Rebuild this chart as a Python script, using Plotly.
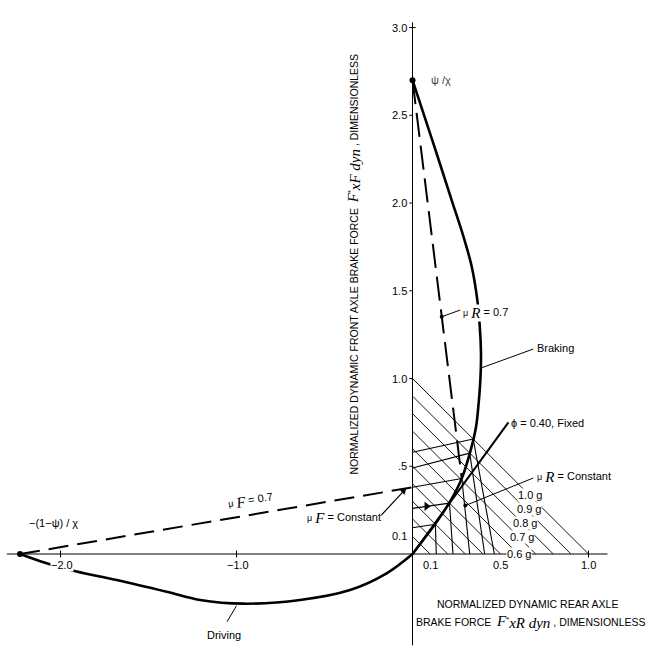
import plotly.graph_objects as go

# ---------------- data ----------------
# ideal braking curve (upper branch, from psi/chi point down to origin)
brake_x = [0.0, 0.115, 0.228, 0.289, 0.336, 0.368, 0.382, 0.389, 0.388, 0.383, 0.374, 0.361, 0.331, 0.280, 0.213, 0.138, 0.061, 0.0]
brake_y = [2.70, 2.35, 2.00, 1.81, 1.64, 1.45, 1.30, 1.15, 1.05, 0.95, 0.84, 0.725, 0.593, 0.431, 0.298, 0.184, 0.080, 0.0]
# driving branch (origin to -(1-psi)/chi)
drive_x = [0.0, -0.147, -0.355, -0.639, -0.96, -1.207, -1.397, -1.681, -1.946, -2.088, -2.23]
drive_y = [0.0, -0.110, -0.205, -0.262, -0.283, -0.262, -0.215, -0.148, -0.091, -0.05, 0.0]

psi_chi = 2.70          # front-axle intercept
neg_pole = -2.23        # -(1-psi)/chi
muF07_y0 = 0.38         # mu_F = 0.7 line at y-axis
muR07_x0 = 0.325        # mu_R = 0.7 line at x-axis
ideal07 = [0.28, 0.43]  # ideal point at 0.7 g

# mu_F = constant lines (y-axis start) and mu_R = constant lines (x-axis start)
muF_y0 = [0.15, 0.26, 0.38, 0.49, 0.58]
muR_x0 = [0.135, 0.23, 0.325, 0.41, 0.465]
ideal_x = [0.13, 0.21, 0.28, 0.325, 0.345]
ideal_y = [0.17, 0.29, 0.43, 0.575, 0.655]

# constant deceleration lines (g)
decel = [0.1, 0.2, 0.3, 0.4, 0.5, 0.6, 0.7, 0.8, 0.9, 1.0]
decel_labels = ["1.0 g", "0.9 g", "0.8 g", "0.7 g", "0.6 g"]
decel_lab_x = [0.665, 0.66, 0.64, 0.62, 0.605]
decel_lab_y = [0.335, 0.255, 0.175, 0.098, 0.0]

# fixed brake force distribution line phi = 0.40
phi_x = [0.0, 0.545]
phi_y = [0.0, 0.75]

# axes
yticks = [3.0, 2.5, 2.0, 1.5, 1.0, 0.5, 0.1]
ytick_text = ["3.0", "2.5", "2.0", "1.5", "1.0", ".5", "0.1"]
xticks = [-2.0, -1.0, 0.1, 0.5, 1.0]
xtick_text = ["\u22122.0", "\u22121.0", "0.1", "0.5", "1.0"]
x_axis_span = [-2.305, 1.108]
y_axis_span = [-0.52, 3.03]

FONT = "Liberation Sans, Arial, sans-serif"
SERIF = "Liberation Serif, DejaVu Serif, serif"

fig = go.Figure()

def line(xs, ys, width=1.0, dash="solid", shape="linear"):
    fig.add_trace(go.Scatter(x=xs, y=ys, mode="lines",
                             line=dict(color="black", width=width, dash=dash, shape=shape),
                             hoverinfo="skip", showlegend=False))

# axes
line(x_axis_span, [0, 0], 1.0)
line([0, 0], y_axis_span, 1.0)
tx, ty = [], []
for v in yticks[:-1]:
    tx += [-0.018, 0.0 if v != 3.0 else 0.018, None]
    ty += [v, v, None]
for v in [-2.0, -1.0, 1.0]:
    tx += [v, v, None]
    ty += [-0.02, 0.02, None]
line(tx, ty, 1.0)

# constant deceleration lines
hx, hy = [], []
for a in decel:
    hx += [0, a, None]
    hy += [a, 0, None]
line(hx, hy, 0.9)

# mu_F and mu_R constant lines
gx, gy = [], []
for y0, ex, ey in zip(muF_y0, ideal_x, ideal_y):
    gx += [0, ex, None]
    gy += [y0, ey, None]
for x0, ex, ey in zip(muR_x0, ideal_x, ideal_y):
    gx += [x0, ex, None]
    gy += [0, ey, None]
line(gx, gy, 1.1)

# dashed mu = 0.7 lines
line([neg_pole, 0], [0, muF07_y0], 2.0, dash="20px,9px")
line([0, ideal07[0]], [psi_chi, ideal07[1]], 2.0, dash="24px,9px")

# phi line
line(phi_x, phi_y, 2.0)

# ideal curves
line(brake_x, brake_y, 2.6, shape="spline")
line(drive_x, drive_y, 2.6, shape="spline")

# leaders
line([0.166, 0.27], [1.352, 1.39], 1.0)          # mu_R = 0.7
line([0.39, 0.686], [1.06, 1.168], 1.0)          # Braking
line([0.30, 0.686], [0.276, 0.433], 1.0)         # mu_R = Constant
line([-1.0, -1.054], [-0.295, -0.386], 1.0)      # Driving

# points
fig.add_trace(go.Scatter(x=[0, neg_pole], y=[psi_chi, 0], mode="markers",
                         marker=dict(color="black", size=6), hoverinfo="skip", showlegend=False))
fig.add_trace(go.Scatter(x=[0.166, 0.30], y=[1.352, 0.276], mode="markers",
                         marker=dict(color="black", size=4), hoverinfo="skip", showlegend=False))
fig.add_trace(go.Scatter(x=[0.08], y=[0.272], mode="markers",
                         marker=dict(color="black", size=8, symbol="triangle-right"),
                         hoverinfo="skip", showlegend=False))

ann = []
def text(x, y, t, size=11, xanchor="center", yanchor="middle", bg=None, angle=0, color="black", pad=0):
    d = dict(x=x, y=y, xref="x", yref="y", text=t, showarrow=False, xanchor=xanchor,
             yanchor=yanchor, textangle=angle, font=dict(family=FONT, size=size, color=color),
             borderpad=pad)
    if bg:
        d["bgcolor"] = bg
    ann.append(d)

for v, t in zip(yticks, ytick_text):
    text(-0.028, v, t, 11, xanchor="right")
for v, t in zip(xticks, xtick_text):
    text(v + (0.01 if v < 0 else 0), -0.02, t, 11, yanchor="top", bg="white" if v == -2.0 else None)

for t, x, y in zip(decel_labels, decel_lab_x, decel_lab_y):
    text(x, y, t, 11, bg="white")

def mu(sub):
    return ("<span style='font-size:9px'>\u03bc</span> <sub><span style='font-family:%s;"
            "font-size:15px;font-style:italic'>%s</span></sub>" % (SERIF, sub))

text(0.10, 2.70, "\u03c8 /\u03c7", 11, xanchor="left", color="#444")
text(-2.04, 0.175, "\u2212(1\u2212\u03c8) / \u03c7", 11)
text(-0.923, 0.30, mu("F") + " = 0.7", 11, angle=-9)
text(-0.39, 0.205, mu("F") + " = Constant", 11)
text(0.282, 1.375, mu("R") + " = 0.7", 11, xanchor="left", bg="white")
text(0.70, 1.175, "Braking", 11, xanchor="left")
text(0.555, 0.745, "\u03d5 = 0.40, Fixed", 11, xanchor="left")
text(0.70, 0.44, mu("R") + " = Constant", 11, xanchor="left")
text(-1.07, -0.46, "Driving", 11)
text(0.655, -0.285, "NORMALIZED DYNAMIC REAR AXLE", 10.5)
text(0.67, -0.386, "BRAKE FORCE  <span style='font-family:%s;font-size:15px;font-style:italic'>F</span>"
     "<sup>*</sup><sub><span style='font-family:%s;font-size:15px;font-style:italic'>xR dyn</span></sub> , DIMENSIONLESS"
     % (SERIF, SERIF), 10.5)
text(-0.332, 1.65, "NORMALIZED DYNAMIC FRONT AXLE BRAKE FORCE  "
     "<span style='font-family:%s;font-size:15px;font-style:italic'>F</span>"
     "<sup>*</sup><sub><span style='font-family:%s;font-size:15px;font-style:italic'>xF dyn</span></sub> , DIMENSIONLESS"
     % (SERIF, SERIF), 10.5, angle=-90)

# arrow for mu_F = Constant
ann.append(dict(x=-0.035, y=0.375, ax=-0.185, ay=0.213, xref="x", yref="y", axref="x", ayref="y",
                text="", showarrow=True, arrowhead=2, arrowsize=1, arrowwidth=1.2, arrowcolor="black"))

fig.update_layout(
    width=650, height=660, autosize=False,
    margin=dict(l=0, r=0, t=0, b=0),
    paper_bgcolor="white", plot_bgcolor="white",
    xaxis=dict(range=[-2.3438, 1.3494], visible=False, fixedrange=True),
    yaxis=dict(range=[-0.604, 3.157], visible=False, fixedrange=True),
    annotations=ann,
    showlegend=False,
)

fig.write_html("out.html")
